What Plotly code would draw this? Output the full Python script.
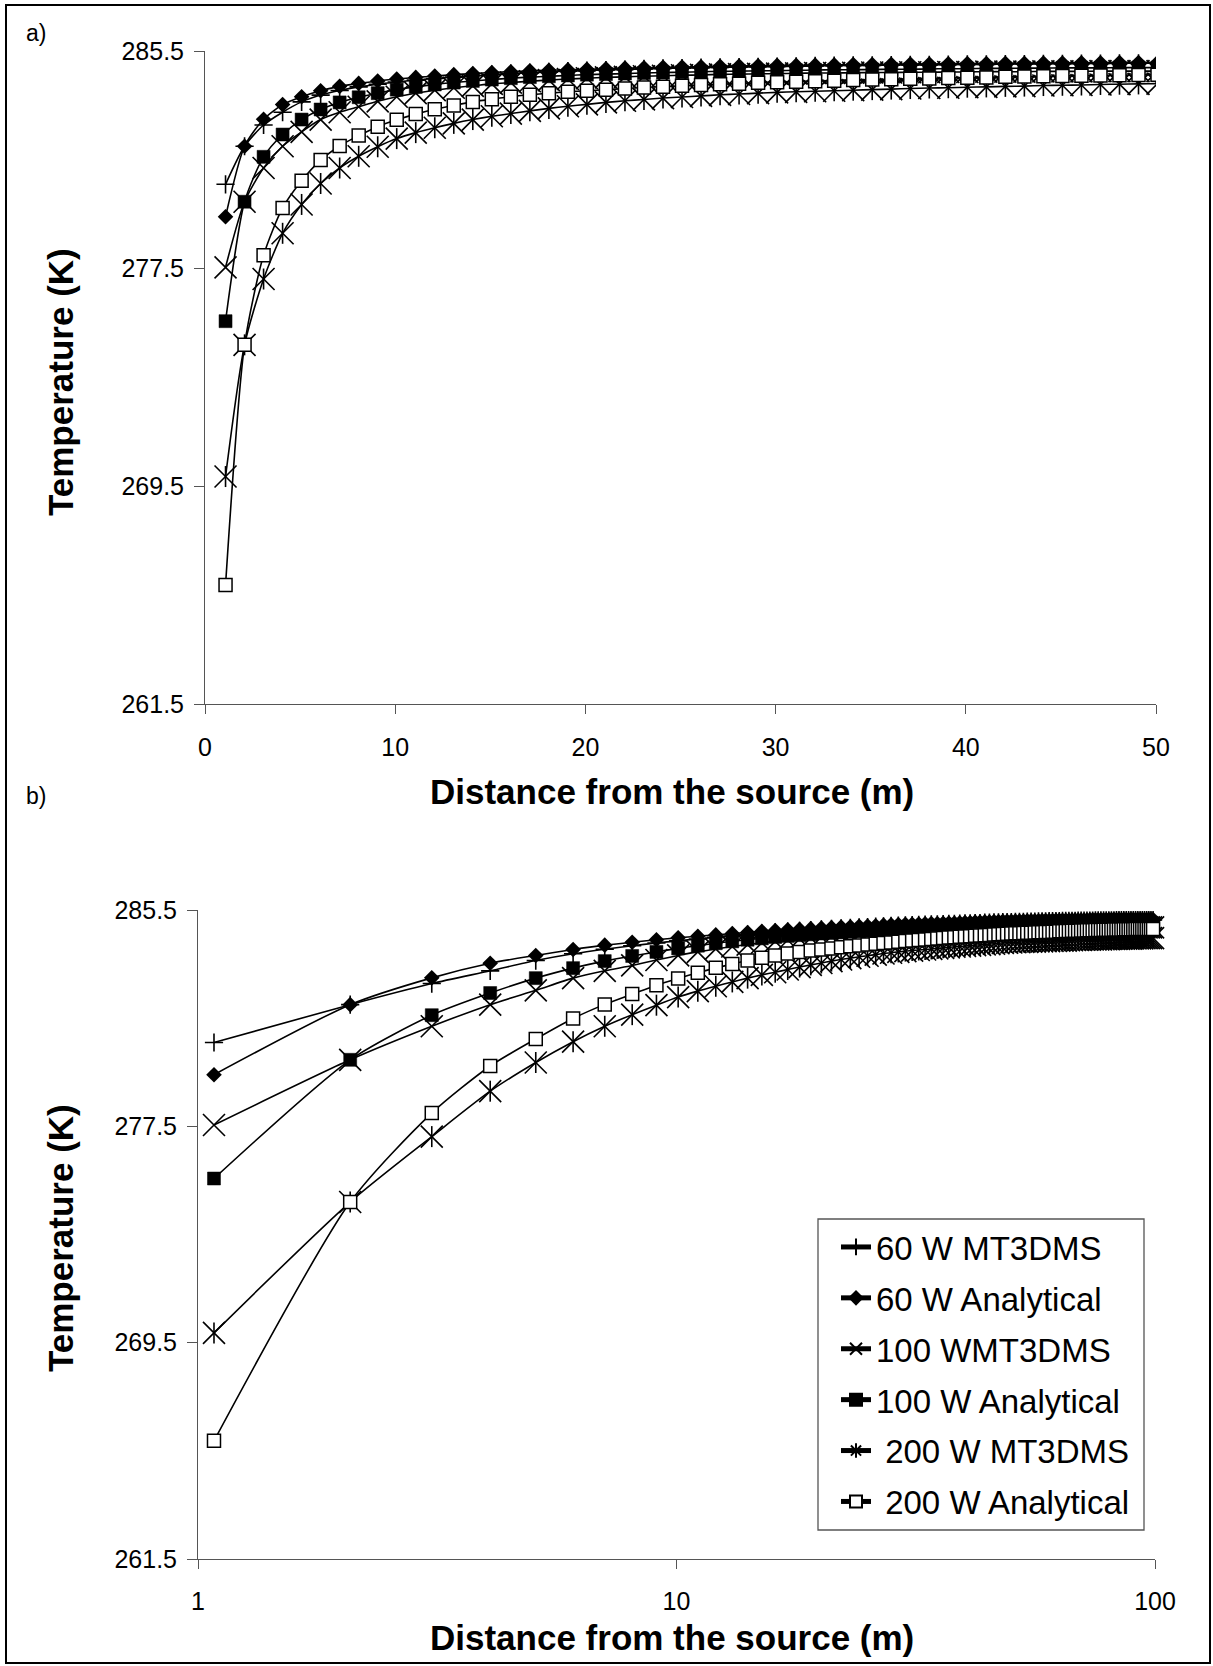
import plotly.graph_objects as go

W, H = 1213, 1666
FONT = "Arial, Liberation Sans, sans-serif"


def px(x):
    return x / W


def py(y):
    return 1 - y / H


# ---------------- data ----------------
distance = [1.08, 2.08, 3.08, 4.08, 5.08, 6.08, 7.08, 8.08, 9.08, 10.08,
            11.08, 12.08, 13.08, 14.08, 15.08, 16.08, 17.08, 18.08, 19.08, 20.08,
            21.08, 22.08, 23.08, 24.08, 25.08, 26.08, 27.08, 28.08, 29.08, 30.08,
            31.08, 32.08, 33.08, 34.08, 35.08, 36.08, 37.08, 38.08, 39.08, 40.08,
            41.08, 42.08, 43.08, 44.08, 45.08, 46.08, 47.08, 48.08, 49.08, 50.08,
            51.08, 52.08, 53.08, 54.08, 55.08, 56.08, 57.08, 58.08, 59.08, 60.08,
            61.08, 62.08, 63.08, 64.08, 65.08, 66.08, 67.08, 68.08, 69.08, 70.08,
            71.08, 72.08, 73.08, 74.08, 75.08, 76.08, 77.08, 78.08, 79.08, 80.08,
            81.08, 82.08, 83.08, 84.08, 85.08, 86.08, 87.08, 88.08, 89.08, 90.08,
            91.08, 92.08, 93.08, 94.08, 95.08, 96.08, 97.08, 98.08, 99.08]

t60_mt3dms = [280.60, 282.00, 282.78, 283.25, 283.63, 283.88, 284.05, 284.18, 284.28, 284.36,
              284.43, 284.49, 284.54, 284.59, 284.63, 284.67, 284.70, 284.73, 284.76, 284.78,
              284.80, 284.82, 284.84, 284.86, 284.87, 284.89, 284.90, 284.91, 284.92, 284.93,
              284.94, 284.95, 284.96, 284.97, 284.97, 284.98, 284.99, 284.99, 285.00, 285.01,
              285.01, 285.02, 285.02, 285.03, 285.03, 285.04, 285.04, 285.05, 285.05, 285.05,
              285.06, 285.06, 285.06, 285.07, 285.07, 285.07, 285.08, 285.08, 285.08, 285.09,
              285.09, 285.09, 285.09, 285.10, 285.10, 285.10, 285.10, 285.10, 285.11, 285.11,
              285.11, 285.11, 285.11, 285.11, 285.12, 285.12, 285.12, 285.12, 285.12, 285.12,
              285.12, 285.12, 285.13, 285.13, 285.13, 285.13, 285.13, 285.13, 285.13, 285.13,
              285.13, 285.13, 285.13, 285.13, 285.13, 285.13, 285.13, 285.13, 285.13]

t60_analytical = [279.41, 282.00, 282.99, 283.53, 283.82, 284.04, 284.20, 284.31, 284.40, 284.47,
                  284.53, 284.58, 284.63, 284.67, 284.71, 284.74, 284.77, 284.79, 284.81, 284.83,
                  284.85, 284.87, 284.88, 284.90, 284.91, 284.92, 284.94, 284.95, 284.96, 284.97,
                  284.97, 284.98, 284.99, 285.00, 285.00, 285.01, 285.02, 285.02, 285.03, 285.04,
                  285.04, 285.05, 285.05, 285.06, 285.06, 285.07, 285.07, 285.08, 285.08, 285.08,
                  285.09, 285.09, 285.09, 285.10, 285.10, 285.10, 285.10, 285.11, 285.11, 285.11,
                  285.11, 285.12, 285.12, 285.12, 285.12, 285.12, 285.13, 285.13, 285.13, 285.13,
                  285.13, 285.13, 285.14, 285.14, 285.14, 285.14, 285.14, 285.14, 285.14, 285.15,
                  285.15, 285.15, 285.15, 285.15, 285.15, 285.15, 285.15, 285.15, 285.15, 285.15,
                  285.15, 285.15, 285.15, 285.15, 285.15, 285.15, 285.15, 285.15, 285.15]

t100_mt3dms = [277.55, 279.96, 281.20, 282.00, 282.53, 282.98, 283.25, 283.45, 283.65, 283.82,
               283.95, 284.06, 284.15, 284.22, 284.29, 284.34, 284.39, 284.43, 284.47, 284.50,
               284.53, 284.55, 284.57, 284.59, 284.61, 284.62, 284.64, 284.65, 284.66, 284.67,
               284.68, 284.69, 284.69, 284.70, 284.71, 284.71, 284.72, 284.72, 284.73, 284.73,
               284.74, 284.74, 284.74, 284.75, 284.75, 284.75, 284.76, 284.76, 284.76, 284.76,
               284.77, 284.77, 284.77, 284.78, 284.78, 284.78, 284.79, 284.79, 284.79, 284.80,
               284.80, 284.80, 284.80, 284.81, 284.81, 284.81, 284.81, 284.82, 284.82, 284.82,
               284.82, 284.82, 284.83, 284.83, 284.83, 284.83, 284.83, 284.84, 284.84, 284.84,
               284.84, 284.84, 284.84, 284.85, 284.85, 284.85, 284.85, 284.85, 284.85, 284.85,
               284.86, 284.86, 284.86, 284.86, 284.86, 284.86, 284.86, 284.86, 284.86]

t100_analytical = [275.57, 279.96, 281.61, 282.43, 282.98, 283.35, 283.61, 283.80, 283.95, 284.08,
                   284.18, 284.27, 284.34, 284.40, 284.45, 284.50, 284.54, 284.57, 284.60, 284.63,
                   284.65, 284.67, 284.69, 284.71, 284.72, 284.74, 284.75, 284.76, 284.77, 284.78,
                   284.79, 284.80, 284.81, 284.81, 284.82, 284.83, 284.83, 284.84, 284.85, 284.85,
                   284.86, 284.86, 284.87, 284.87, 284.88, 284.88, 284.88, 284.89, 284.89, 284.89,
                   284.90, 284.90, 284.90, 284.91, 284.91, 284.91, 284.92, 284.92, 284.92, 284.93,
                   284.93, 284.93, 284.94, 284.94, 284.94, 284.94, 284.95, 284.95, 284.95, 284.95,
                   284.96, 284.96, 284.96, 284.96, 284.96, 284.97, 284.97, 284.97, 284.97, 284.97,
                   284.98, 284.98, 284.98, 284.98, 284.98, 284.98, 284.99, 284.99, 284.99, 284.99,
                   284.99, 284.99, 285.00, 285.00, 285.00, 285.00, 285.00, 285.00, 285.00]

t200_mt3dms = [269.86, 274.70, 277.12, 278.80, 279.86, 280.63, 281.20, 281.63, 281.98, 282.28,
               282.50, 282.68, 282.84, 282.98, 283.10, 283.20, 283.30, 283.39, 283.47, 283.54,
               283.61, 283.67, 283.72, 283.77, 283.81, 283.85, 283.89, 283.92, 283.95, 283.98,
               284.00, 284.02, 284.04, 284.06, 284.08, 284.10, 284.12, 284.14, 284.15, 284.17,
               284.18, 284.20, 284.21, 284.23, 284.24, 284.25, 284.27, 284.28, 284.29, 284.30,
               284.31, 284.31, 284.32, 284.32, 284.33, 284.33, 284.34, 284.34, 284.35, 284.35,
               284.36, 284.36, 284.37, 284.37, 284.37, 284.38, 284.38, 284.39, 284.39, 284.39,
               284.40, 284.40, 284.40, 284.41, 284.41, 284.41, 284.41, 284.42, 284.42, 284.42,
               284.43, 284.43, 284.43, 284.43, 284.44, 284.44, 284.44, 284.44, 284.44, 284.45,
               284.45, 284.45, 284.45, 284.45, 284.46, 284.46, 284.46, 284.46, 284.46]

t200_analytical = [265.87, 274.70, 277.99, 279.73, 280.73, 281.49, 282.01, 282.39, 282.72, 282.97,
                   283.18, 283.36, 283.50, 283.63, 283.73, 283.82, 283.89, 283.95, 284.00, 284.04,
                   284.08, 284.12, 284.16, 284.19, 284.22, 284.25, 284.28, 284.30, 284.33, 284.35,
                   284.37, 284.39, 284.41, 284.43, 284.45, 284.46, 284.48, 284.49, 284.51, 284.52,
                   284.53, 284.55, 284.56, 284.57, 284.58, 284.59, 284.60, 284.61, 284.62, 284.63,
                   284.64, 284.64, 284.65, 284.66, 284.66, 284.67, 284.68, 284.68, 284.69, 284.69,
                   284.70, 284.70, 284.71, 284.71, 284.72, 284.72, 284.73, 284.73, 284.73, 284.74,
                   284.74, 284.75, 284.75, 284.75, 284.76, 284.76, 284.76, 284.77, 284.77, 284.77,
                   284.77, 284.78, 284.78, 284.78, 284.78, 284.79, 284.79, 284.79, 284.79, 284.79,
                   284.80, 284.80, 284.80, 284.80, 284.80, 284.80, 284.80, 284.80, 284.80]

series_names = ["60 W MT3DMS", "60 W Analytical", "100 WMT3DMS",
                "100 W Analytical", "\u00a0200 W MT3DMS", "\u00a0200 W Analytical"]
series_values = [t60_mt3dms, t60_analytical, t100_mt3dms,
                 t100_analytical, t200_mt3dms, t200_analytical]

y_ticks = [261.5, 269.5, 277.5, 285.5]
x_ticks_lin = [0, 10, 20, 30, 40, 50]
x_ticks_log = [1, 10, 100]

# ---------------- styles ----------------
LW = 1.6
styles = [
    dict(symbol="cross-thin", size=13, color="black", line=dict(color="black", width=LW)),
    dict(symbol="diamond", size=12, color="black", line=dict(color="black", width=0)),
    dict(symbol="x-thin", size=22, color="black", line=dict(color="black", width=LW)),
    dict(symbol="square", size=13, color="black", line=dict(color="black", width=0.5)),
    dict(symbol="x-thin", size=22, color="black", line=dict(color="black", width=LW)),
    dict(symbol="square", size=13, color="white", line=dict(color="black", width=1.5)),
]
ast_vertical = dict(symbol="line-ns", size=15, color="black", line=dict(color="black", width=LW))
legend_ast = dict(symbol="asterisk-open", size=12, color="black", line=dict(color="black", width=1.2))

fig = go.Figure()

panels = [("x", "y", True, False), ("x2", "y2", False, True)]
for xa, ya, clip, legend_panel in panels:
    for i, (name, vals) in enumerate(zip(series_names, series_values)):
        grp = "g%d" % i
        is_ast = (i == 4)
        fig.add_trace(go.Scatter(
            x=distance, y=vals, name=name, mode="lines+markers",
            line=dict(color="black", width=LW, shape="spline", smoothing=0.7),
            marker=styles[i], xaxis=xa, yaxis=ya, cliponaxis=clip,
            legendgroup=grp,
            showlegend=legend_panel and not is_ast,
            hoverinfo="skip"))
        if is_ast:
            fig.add_trace(go.Scatter(
                x=distance, y=vals, name=name, mode="markers",
                marker=ast_vertical, xaxis=xa, yaxis=ya, cliponaxis=clip,
                legendgroup=grp, showlegend=False, hoverinfo="skip"))
            if legend_panel:
                fig.add_trace(go.Scatter(
                    x=[None], y=[None], name=name, mode="lines+markers",
                    line=dict(color="black", width=LW), marker=legend_ast,
                    xaxis=xa, yaxis=ya, legendgroup=grp, showlegend=True,
                    hoverinfo="skip"))

axis_common = dict(showgrid=False, zeroline=False, showline=True,
                   linecolor="#555555", linewidth=1, ticks="outside",
                   tickcolor="#555555", tickwidth=1,
                   tickfont=dict(size=25, color="black", family=FONT))

fig.update_layout(
    width=W, height=H,
    margin=dict(l=0, r=0, t=0, b=0, autoexpand=False),
    paper_bgcolor="white", plot_bgcolor="white",
    font=dict(family=FONT, color="black"),
    xaxis=dict(domain=[px(205), px(1156)], range=[0, 50], tickvals=x_ticks_lin,
               ticktext=[str(v) for v in x_ticks_lin], ticklen=9,
               ticklabelstandoff=12, anchor="y", **axis_common),
    yaxis=dict(domain=[py(704), py(51)], range=[261.5, 285.5], tickvals=y_ticks,
               ticktext=["%.1f" % v for v in y_ticks], ticklen=10,
               ticklabelstandoff=5, anchor="x", **axis_common),
    xaxis2=dict(domain=[px(198), px(1155)], type="log", range=[0, 2], tickvals=x_ticks_log,
                ticktext=[str(v) for v in x_ticks_log], ticklen=9,
                ticklabelstandoff=11, anchor="y2", **axis_common),
    yaxis2=dict(domain=[py(1559), py(910)], range=[261.5, 285.5], tickvals=y_ticks,
                ticktext=["%.1f" % v for v in y_ticks], ticklen=10,
                ticklabelstandoff=5, anchor="x2", **axis_common),
    legend=dict(x=px(836), y=py(1219), xanchor="left", yanchor="top",
                bgcolor="rgba(0,0,0,0)", borderwidth=0,
                font=dict(size=33, color="black", family=FONT),
                tracegroupgap=5, itemsizing="constant", traceorder="grouped"),
    showlegend=True,
)

shapes = [
    dict(type="rect", xref="paper", yref="paper", x0=px(6), x1=px(1210), y0=py(1663), y1=py(5),
         line=dict(color="black", width=2), fillcolor="rgba(0,0,0,0)", layer="above"),
    dict(type="rect", xref="paper", yref="paper", x0=px(818), x1=px(1144), y0=py(1530), y1=py(1219),
         line=dict(color="#555555", width=1.3), fillcolor="rgba(0,0,0,0)", layer="above"),
]
fig.update_layout(shapes=shapes)

title_font = dict(size=35, color="black", family=FONT)
ann_common = dict(xref="paper", yref="paper", showarrow=False,
                  xanchor="center", yanchor="middle")
annotations = [
    dict(text="a)", x=px(36), y=py(33), font=dict(size=23, color="black", family=FONT), **ann_common),
    dict(text="b)", x=px(36), y=py(796), font=dict(size=23, color="black", family=FONT), **ann_common),
    dict(text="<b>Distance from the source (m)</b>", x=px(672), y=py(791),
         font=title_font, **ann_common),
    dict(text="<b>Distance from the source (m)</b>", x=px(672), y=py(1637),
         font=title_font, **ann_common),
    dict(text="<b>Temperature (K)</b>", x=px(60), y=py(382), textangle=-90,
         font=title_font, **ann_common),
    dict(text="<b>Temperature (K)</b>", x=px(60), y=py(1238), textangle=-90,
         font=title_font, **ann_common),
]
fig.update_layout(annotations=annotations)

fig.write_html(
    "out.html",
    post_script="document.body.style.margin='0';document.body.style.padding='0';"
                "document.documentElement.style.overflow='hidden';",
)
